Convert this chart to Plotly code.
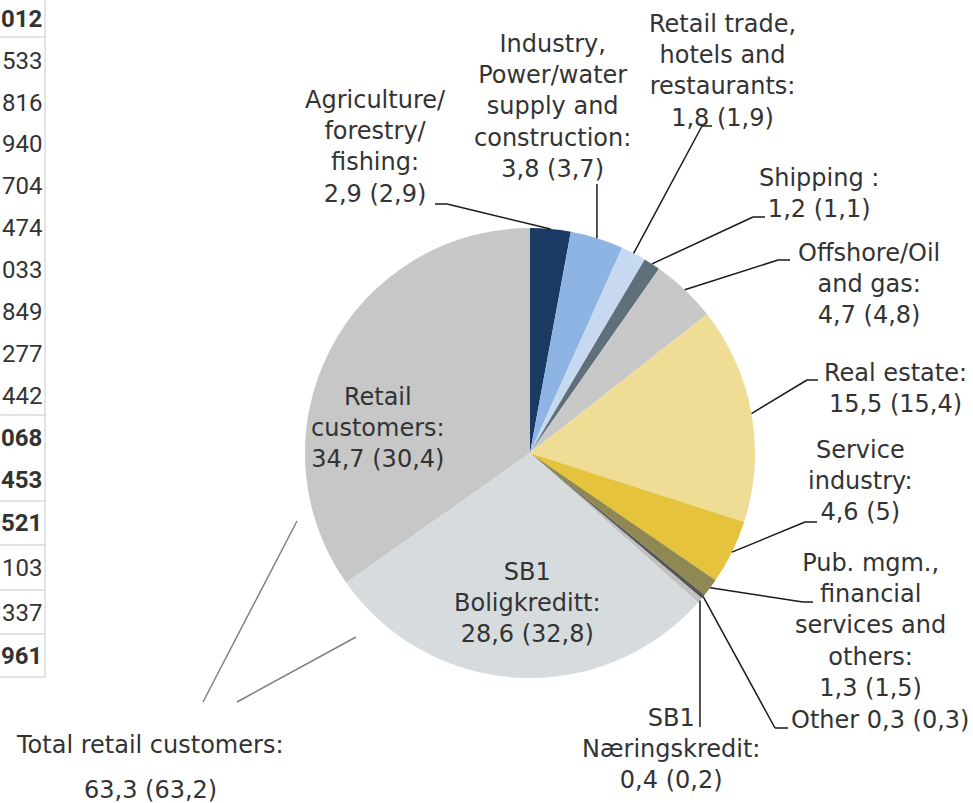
import math
import plotly.graph_objects as go

# ---- data ----
sectors = ["Agriculture/forestry/fishing", "Industry, Power/water supply and construction",
           "Retail trade, hotels and restaurants", "Shipping", "Offshore/Oil and gas",
           "Real estate", "Service industry", "Pub. mgm., financial services and others",
           "Other", "SB1 Næringskredit", "SB1 Boligkreditt", "Retail customers"]
share_now = [2.9, 3.8, 1.8, 1.2, 4.7, 15.5, 4.6, 1.3, 0.3, 0.4, 28.6, 34.7]
share_prev = ["2,9", "3,7", "1,9", "1,1", "4,8", "15,4", "5", "1,5", "0,3", "0,2", "32,8", "30,4"]
colors = ["#1b3a63", "#8eb4e3", "#c6d9f1", "#5f707b", "#c8c8c8", "#f0dd95",
          "#e5c33d", "#8f8852", "#555555", "#c0c0c0", "#d6dbde", "#c7c7c7"]

table_values = ["012", "533", "816", "940", "704", "474", "033", "849", "277", "442",
                "068", "453", "521", "103", "337", "961"]
table_bold = [True, False, False, False, False, False, False, False, False, False,
              True, True, True, False, False, True]

total_retail_now = "63,3"
total_retail_prev = "63,2"

def fmt(v):
    s = f"{v:g}".replace(".", ",")
    return s

W, H = 973, 803
CX, CY, R = 530, 453, 225
FONT = "DejaVu Sans"
TXT = "#333333"

fig = go.Figure()
fig.add_trace(go.Scatter(x=[None], y=[None], mode="markers", showlegend=False, hoverinfo="skip"))
fig.add_trace(go.Pie(
    labels=sectors, values=share_now, sort=False, direction="clockwise", rotation=0,
    marker=dict(colors=colors, line=dict(width=0)), textinfo="none", hoverinfo="label+value",
    showlegend=False,
    domain=dict(x=[(CX - R) / W, (CX + R) / W], y=[1 - (CY + R) / H, 1 - (CY - R) / H]),
))

# anchor points on the pie edge at each slice's mid-angle
total = sum(share_now)
anchors = []
cum = 0
for v in share_now:
    mid = (cum + v / 2) / total * 2 * math.pi
    anchors.append((CX + R * math.sin(mid), CY - R * math.cos(mid)))
    cum += v

shapes = []
def seg(pts, color="#1a1a1a", width=1.5):
    for (x0, y0), (x1, y1) in zip(pts[:-1], pts[1:]):
        shapes.append(dict(type="line", xref="x", yref="y", x0=x0, y0=y0, x1=x1, y1=y1,
                           line=dict(color=color, width=width)))

# leader lines: label end -> elbow -> slice
seg([(435, 204), (447, 204), anchors[0]])
seg([(anchors[1][0], 184), anchors[1]])
seg([(712, 126), (702, 126), anchors[2]])
seg([(765, 217), (753, 217), anchors[3]])
seg([(790, 260), (778, 260), anchors[4]])
seg([(818, 380), (807, 380), anchors[5]])
seg([(817, 522), (805, 522), anchors[6]])
seg([(813, 602), (803, 602), anchors[7]])
seg([(788, 728), (775, 728), anchors[8]])
seg([(anchors[9][0], 727), anchors[9]])

# total retail customer pointers
seg([(203, 702), (297, 521)], color="#808080")
seg([(237, 702), (356, 637)], color="#808080")

# table fragment lines
for yl in [37, 415, 501, 545, 590, 634, 677]:
    shapes.append(dict(type="line", xref="x", yref="y", x0=0, x1=45, y0=yl, y1=yl,
                       line=dict(color="#c8c8c8", width=1)))
shapes.append(dict(type="line", xref="x", yref="y", x0=45, x1=45, y0=0, y1=677,
                   line=dict(color="#c8c8c8", width=1)))

ann = []
def label(x, y, text, size=24, font=FONT):
    ann.append(dict(x=x, y=y, xref="x", yref="y", text=text, showarrow=False,
                    xanchor="center", yanchor="middle", align="center",
                    font=dict(family=font, size=size, color=TXT)))

def val(i):
    return f"{fmt(share_now[i])} ({share_prev[i]})"

label(375, 147, f"Agriculture/<br>forestry/<br>fishing:<br>{val(0)}")
label(552, 106, f"Industry,<br>Power/water<br>supply and<br>construction:<br>{val(1)}")
label(722, 71, f"Retail trade,<br>hotels and<br>restaurants:<br>{val(2)}")
label(819, 193, f"Shipping :<br>{val(3)}")
label(869, 284, f"Offshore/Oil<br>and gas:<br>{val(4)}")
label(895, 388, f"Real estate:<br>{val(5)}")
label(860, 481, f"Service<br>industry:<br>{val(6)}")
label(870, 625, f"Pub. mgm.,<br>financial<br>services and<br>others:<br>{val(7)}")
label(880, 720, f"Other {val(8)}")
label(671, 749, f"SB1<br>Næringskredit:<br>{val(9)}")
label(527, 603, f"SB1<br>Boligkreditt:<br>{val(10)}")
label(378, 428, f"Retail<br>customers:<br>{val(11)}")
label(149, 745, "Total retail customers:")
label(150, 790, f"{total_retail_now} ({total_retail_prev})")

row_y = [19, 61, 103, 144, 186, 228, 270, 312, 354, 396, 438, 480, 523, 568, 613, 656]
for t, b, yy in zip(table_values, table_bold, row_y):
    ann.append(dict(x=44, y=yy, xref="x", yref="y", text=f"<b>{t}</b>" if b else t,
                    showarrow=False, xanchor="right", yanchor="middle",
                    font=dict(family="Roboto", size=24, color=TXT)))

fig.update_layout(
    width=W, height=H, margin=dict(l=0, r=0, t=0, b=0),
    paper_bgcolor="white", plot_bgcolor="white",
    xaxis=dict(range=[0, W], visible=False, domain=[0, 1], fixedrange=True),
    yaxis=dict(range=[H, 0], visible=False, domain=[0, 1], fixedrange=True),
    shapes=shapes, annotations=ann, showlegend=False,
)
fig.write_html("out.html", config=dict(displayModeBar=False),
               post_script="document.body.style.margin='0';document.body.style.overflow='hidden';")
